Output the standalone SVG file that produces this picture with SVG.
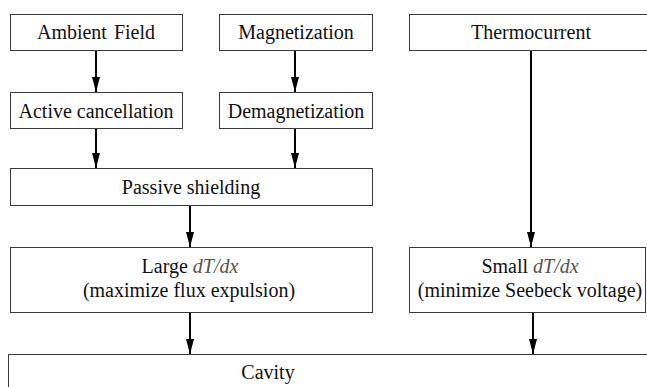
<svg xmlns="http://www.w3.org/2000/svg" width="647" height="387" viewBox="0 0 647 387">
  <defs>
    <marker id="arrow" markerWidth="15" markerHeight="8" refX="15" refY="4" orient="auto" markerUnits="userSpaceOnUse" viewBox="0 0 15 8">
      <path d="M0,0 L15,4 L0,8 Z" fill="#000"/>
    </marker>
    <style>
      .box { fill: #fff; stroke: #3a3a3a; stroke-width: 1; }
      .lbl { font-family: 'Liberation Serif', 'Times New Roman', serif; font-size: 20px; fill: #111; text-anchor: middle; }
      .it { font-style: italic; fill: #555; }
      .edge { stroke: #000; stroke-width: 2; fill: none; marker-end: url(#arrow); }
    </style>
  </defs>
  <rect width="647" height="387" fill="#fff"/>

  <g id="ambient-field">
    <rect class="box" x="10.5" y="14.5" width="172" height="36"/>
    <text class="lbl" x="96" y="39" word-spacing="2">Ambient Field</text>
  </g>
  <g id="magnetization">
    <rect class="box" x="219.5" y="14.5" width="153" height="36"/>
    <text class="lbl" x="296" y="39">Magnetization</text>
  </g>
  <g id="thermocurrent">
    <rect class="box" x="409.5" y="14.5" width="244" height="36"/>
    <text class="lbl" x="531" y="39">Thermocurrent</text>
  </g>
  <g id="active-cancellation">
    <rect class="box" x="10.5" y="92.5" width="172" height="36"/>
    <text class="lbl" x="96" y="118">Active cancellation</text>
  </g>
  <g id="demagnetization">
    <rect class="box" x="219.5" y="92.5" width="153" height="36"/>
    <text class="lbl" x="296" y="118">Demagnetization</text>
  </g>
  <g id="passive-shielding">
    <rect class="box" x="10.5" y="168.5" width="362" height="37"/>
    <text class="lbl" x="191" y="194">Passive shielding</text>
  </g>
  <g id="large-gradient">
    <rect class="box" x="10.5" y="247.5" width="362" height="65"/>
    <text class="lbl" x="190" y="273">Large <tspan class="it">dT/dx</tspan></text>
    <text class="lbl" x="189" y="297">(maximize flux expulsion)</text>
  </g>
  <g id="small-gradient">
    <rect class="box" x="409.5" y="247.5" width="236" height="65"/>
    <text class="lbl" x="530" y="273">Small <tspan class="it">dT/dx</tspan></text>
    <text class="lbl" x="530" y="297">(minimize Seebeck voltage)</text>
  </g>
  <g id="cavity">
    <rect class="box" x="8.5" y="354.5" width="660" height="40"/>
    <text class="lbl" x="268" y="379">Cavity</text>
  </g>

  <g id="connectors">
    <line class="edge" x1="96" y1="51" x2="96" y2="92"/>
    <line class="edge" x1="295" y1="51" x2="295" y2="92"/>
    <line class="edge" x1="96" y1="129" x2="96" y2="168"/>
    <line class="edge" x1="295" y1="129" x2="295" y2="168"/>
    <line class="edge" x1="531" y1="51" x2="531" y2="247"/>
    <line class="edge" x1="190" y1="206" x2="190" y2="247"/>
    <line class="edge" x1="190" y1="313" x2="190" y2="354"/>
    <line class="edge" x1="533" y1="313" x2="533" y2="354"/>
  </g>
</svg>
